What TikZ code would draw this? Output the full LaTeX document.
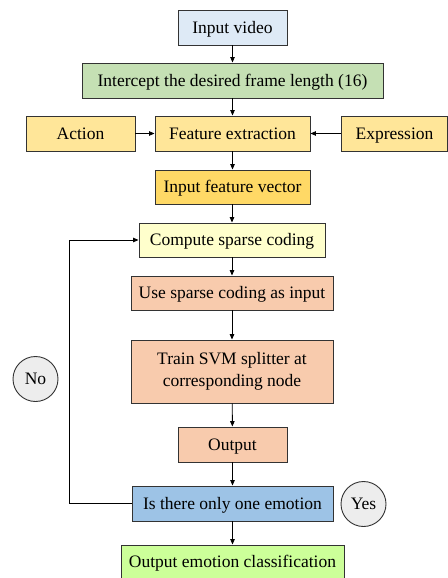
\documentclass[tikz,border=0pt]{standalone}
\usepackage{fontspec}
\setmainfont{Liberation Serif}
\usetikzlibrary{arrows.meta}
\definecolor{cVid}{HTML}{DEEAF6}
\definecolor{cIcp}{HTML}{C5E0B4}
\definecolor{cYel}{HTML}{FFE699}
\definecolor{cIfv}{HTML}{FFD966}
\definecolor{cCsc}{HTML}{FFFFCC}
\definecolor{cOrg}{HTML}{F8CBAD}
\definecolor{cBlu}{HTML}{9DC3E6}
\definecolor{cGrn}{HTML}{CCFF99}
\definecolor{cCir}{HTML}{EDEDED}
\definecolor{cLine}{HTML}{333333}
\tikzset{
  box/.style={draw=cLine, line width=0.9pt, inner sep=0pt, align=center,
    font=\fontsize{17.5}{22}\selectfont},
  one/.style={text height=11.6pt, text depth=0pt},
  circ/.style={draw=cLine, line width=0.9pt, circle, fill=cCir, inner sep=0pt,
    minimum size=45pt, font=\fontsize{17.5}{22}\selectfont, text height=11.6pt, text depth=0pt},
  arr/.style={draw=black, line width=0.9pt, -{Triangle[length=5.5pt,width=4.5pt]}}
}
\begin{document}
\begin{tikzpicture}[x=1pt,y=-1pt]
\useasboundingbox (0,0) rectangle (447,578);
\node[box, one, fill=cVid, minimum width=109pt, minimum height=35pt] (vid) at (232.5,27.5) {Input video};
\node[box, one, fill=cIcp, minimum width=301pt, minimum height=35pt] (icp) at (232.5,80.5) {Intercept the desired frame length (16)};
\node[box, one, fill=cYel, minimum width=109pt, minimum height=35pt] (act) at (80.5,133.5) {Action};
\node[box, one, fill=cYel, minimum width=155pt, minimum height=35pt] (fe) at (232.5,133.5) {Feature extraction};
\node[box, one, fill=cYel, minimum width=106pt, minimum height=35pt] (exp) at (394.5,133.5) {Expression};
\node[box, one, fill=cIfv, minimum width=155pt, minimum height=34pt] (ifv) at (232.5,187) {Input feature vector};
\node[box, one, fill=cCsc, minimum width=186pt, minimum height=34pt] (csc) at (232,240) {Compute sparse coding};
\node[box, one, fill=cOrg, minimum width=202pt, minimum height=34pt] (usc) at (232,293) {Use sparse coding as input};
\node[box, fill=cOrg, minimum width=202pt, minimum height=63pt] (svm) at (232,371.5) {Train SVM splitter at\\corresponding node};
\node[box, one, fill=cOrg, minimum width=109pt, minimum height=35pt] (out) at (232.5,444.5) {Output};
\node[box, one, fill=cBlu, minimum width=201pt, minimum height=35pt] (one) at (232.5,503.5) {Is there only one emotion};
\node[box, one, fill=cGrn, minimum width=223pt, minimum height=34pt] (oec) at (232.5,562) {Output emotion classification};
\node[circ] (no) at (35.5,379) {No};
\node[circ] (yes) at (363.5,504) {Yes};
\coordinate (lb) at (69,503.5);
\coordinate (lt) at (69,240);
\draw[arr] (vid) -- (icp);
\draw[arr] (icp) -- (fe);
\draw[arr] (act) -- (fe);
\draw[arr] (exp) -- (fe);
\draw[arr] (fe) -- (ifv);
\draw[arr] (ifv.south -| csc.north) -- (csc);
\draw[arr] (csc) -- (usc);
\draw[arr] (usc) -- (svm);
\draw[arr] (svm) -- (out);
\draw[arr] (out) -- (one);
\draw[arr] (one) -- (oec);
\draw[arr] (one.west) -- (lb) -- (lt) -- (csc.west);
\end{tikzpicture}
\end{document}
